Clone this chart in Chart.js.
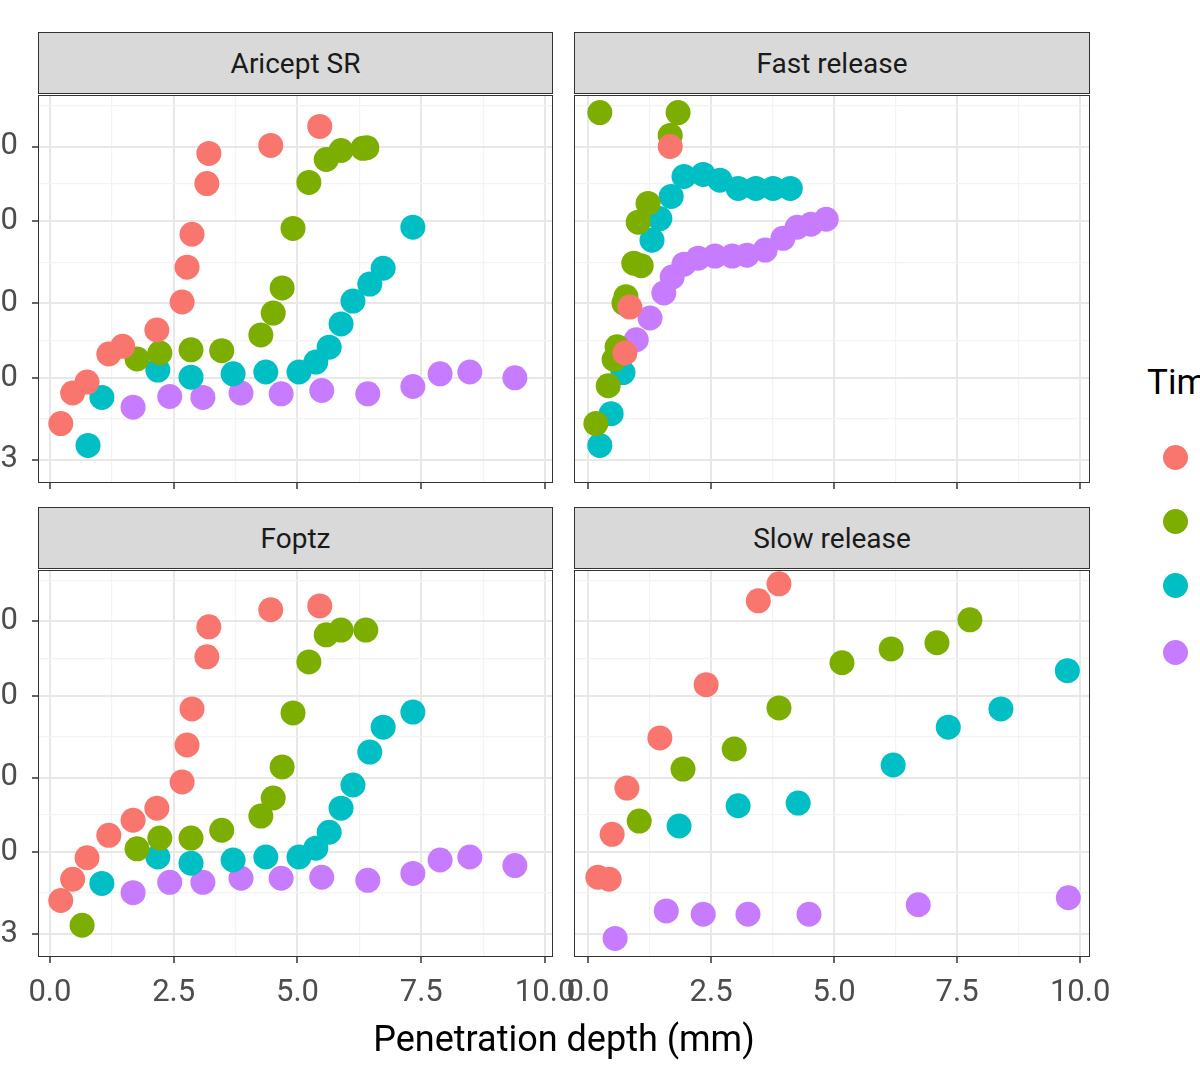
<!DOCTYPE html>
<html><head><meta charset="utf-8">
<script src="https://cdn.jsdelivr.net/npm/chart.js@4.4.1/dist/chart.umd.min.js"></script>
<style>
html,body{margin:0;padding:0;width:1200px;height:1080px;overflow:hidden;background:#fff;font-family:Roboto,"Liberation Sans",sans-serif;}
.box{position:absolute;}
.strip{position:absolute;background:#d9d9d9;border:1.5px solid #333;box-sizing:border-box;color:#1a1a1a;font-size:28px;display:flex;align-items:center;justify-content:center;}
.frame{position:absolute;border:1.5px solid #333;box-sizing:border-box;pointer-events:none;}
.dot{position:absolute;width:25px;height:25px;border-radius:50%;}
</style></head><body>
<script>
const panelTitles = ["Aricept SR", "Fast release", "Foptz", "Slow release"];
const seriesNames = ["1", "2", "3", "4"];
const seriesColors = ["#F8766D", "#7CAE00", "#00BFC4", "#C77CFF"];
const xTicks = [0, 2.5, 5, 7.5, 10];
const yTicks = [3, 10, 30, 100, 300];

const aricept1 = [[0.22,5.1],[0.46,8.0],[0.75,9.4],[1.19,14.2],[1.47,15.9],[2.16,20.2],[2.67,30.5],[2.77,50.9],[2.87,82.6],[3.17,174],[3.21,271],[4.46,305],[5.45,403]];
const aricept2 = [[1.76,13.2],[2.22,14.4],[2.85,15.1],[3.47,14.9],[4.26,18.8],[4.51,25.9],[4.69,37.5],[4.91,90],[5.23,177],[5.58,248],[5.88,283],[6.32,292],[6.40,295]];
const aricept3 = [[0.77,3.7],[1.05,7.5],[2.18,11.2],[2.85,10.1],[3.70,10.6],[4.36,10.9],[5.03,10.9],[5.37,12.6],[5.64,15.7],[5.88,22.1],[6.12,30.9],[6.46,39.7],[6.73,50.1],[7.33,91.6]];
const aricept4 = [[1.68,6.5],[2.42,7.6],[3.09,7.5],[3.86,8.0],[4.67,7.9],[5.49,8.3],[6.42,7.9],[7.33,8.8],[7.88,10.6],[8.48,10.9],[9.39,10]];

const fast1 = [[1.67,300],[0.85,28.3],[0.75,14.4]];
const fast2 = [[0.24,494],[1.83,494],[1.67,353],[1.22,130],[1.02,98.6],[0.93,54],[1.08,52],[0.77,33],[0.73,30],[0.59,15.8],[0.53,13.1],[0.41,8.9],[0.16,5.1]];
const fast3 = [[0.24,3.7],[0.47,5.9],[0.71,10.8],[1.30,75.7],[1.46,104],[1.69,144],[1.95,193],[2.34,199],[2.68,183],[3.05,162],[3.41,162],[3.76,162],[4.11,162]];
const fast4 = [[0.98,17.5],[1.26,24.1],[1.54,34.8],[1.71,44],[1.95,53.2],[2.24,58.1],[2.58,59.9],[2.93,59.9],[3.23,60.7],[3.60,65.4],[3.96,77.8],[4.25,91.5],[4.53,95.7],[4.84,103]];

const foptz1 = [[0.22,4.9],[0.46,6.7],[0.75,9.2],[1.19,12.8],[1.68,16.0],[2.16,19.1],[2.67,28.1],[2.77,48.5],[2.87,82.6],[3.17,178],[3.21,277],[4.46,356],[5.45,377]];
const foptz2 = [[0.65,3.4],[1.76,10.5],[2.22,12.3],[2.85,12.3],[3.47,13.8],[4.26,17.0],[4.51,22.2],[4.69,35.1],[4.91,77.8],[5.23,165],[5.58,246],[5.88,264],[6.38,264]];
const foptz3 = [[1.05,6.3],[2.18,9.3],[2.85,8.5],[3.70,8.9],[4.36,9.3],[5.03,9.3],[5.37,10.6],[5.64,13.4],[5.88,19.1],[6.12,26.9],[6.46,43.7],[6.73,63.1],[7.33,78.8]];
const foptz4 = [[1.68,5.5],[2.42,6.4],[3.09,6.4],[3.86,6.8],[4.67,6.8],[5.49,6.9],[6.42,6.6],[7.33,7.3],[7.88,8.9],[8.48,9.3],[9.39,8.2]];

const slow1 = [[0.20,6.9],[0.43,6.7],[0.49,13.0],[0.79,25.7],[1.46,53.8],[2.40,118],[3.46,406],[3.88,522]];
const slow2 = [[1.04,15.8],[1.93,34],[2.97,45.7],[3.88,83.8],[5.16,163],[6.16,200],[7.09,219],[7.76,307]];
const slow3 = [[1.85,14.7],[3.05,19.8],[4.27,20.6],[6.20,36.1],[7.32,63.1],[8.39,82.6],[9.74,145]];
const slow4 = [[0.55,2.8],[1.59,4.2],[2.34,4.0],[3.25,4.0],[4.49,4.0],[6.71,4.6],[9.76,5.1]];

const panelData = [[aricept1,aricept2,aricept3,aricept4],[fast1,fast2,fast3,fast4],[foptz1,foptz2,foptz3,foptz4],[slow1,slow2,slow3,slow4]];

const panels = [
  {x0:38, x1:553, y0:95, y1:483, left:true, bottom:false, xmin:-0.24, xmax:10.16},
  {x0:574,x1:1090,y0:95, y1:483, left:false,bottom:false, xmin:-0.285,xmax:10.2},
  {x0:38, x1:553, y0:570,y1:957, left:true, bottom:true, xmin:-0.24, xmax:10.16},
  {x0:574,x1:1090,y0:570,y1:957, left:false,bottom:true, xmin:-0.285,xmax:10.2}
];
const YMIN = 2.13, YMAX = 640;
const YW = 60, XH_TOP = 8, XH_BOT = 62, PADL = 30, PADR = 30;
const FONT = {family:'Roboto, "Liberation Sans", sans-serif', size:31};

function isMajorX(v){ return xTicks.some(t=>Math.abs(t-v)<1e-6); }
function isMajorY(v){ return yTicks.some(t=>Math.abs(t-v)/t<1e-6); }
function zeroPad(s){ s.paddingLeft=0; s.paddingRight=0; s.paddingTop=0; s.paddingBottom=0; }

panels.forEach((p,i)=>{
  const padL = p.left ? 0 : PADL;
  const L = p.left ? p.x0-YW : p.x0-PADL;
  const W = p.x1 + PADR - L;
  const H = (p.y1-p.y0) + (p.bottom?XH_BOT:XH_TOP);
  const div = document.createElement('div');
  div.className='box';
  div.style.cssText=`left:${L}px;top:${p.y0}px;width:${W}px;height:${H}px;`;
  const c = document.createElement('canvas');
  div.appendChild(c); document.body.appendChild(div);

  const strip = document.createElement('div');
  strip.className='strip';
  strip.style.cssText=`left:${p.x0}px;top:${p.y0-63}px;width:${p.x1-p.x0}px;height:62px;`;
  strip.textContent = panelTitles[i];
  document.body.appendChild(strip);
  const fr = document.createElement('div');
  fr.className='frame';
  fr.style.cssText=`left:${p.x0}px;top:${p.y0}px;width:${p.x1-p.x0}px;height:${p.y1-p.y0}px;`;
  document.body.appendChild(fr);

  new Chart(c,{
    type:'scatter',
    data:{datasets: panelData[i].map((d,k)=>({
      label:seriesNames[k], data:d.map(q=>({x:q[0],y:q[1]})),
      backgroundColor:seriesColors[k], borderWidth:0, pointRadius:12.5, pointHoverRadius:12.5
    }))},
    options:{
      responsive:true, maintainAspectRatio:false, animation:false,
      layout:{padding:{left:padL, right:PADR, top:0, bottom:0}, autoPadding:false},
      plugins:{legend:{display:false}, tooltip:{enabled:false}},
      scales:{
        x:{type:'linear', min:p.xmin, max:p.xmax, bounds:'data',
          afterBuildTicks:s=>{ const t=[]; for(let v=0; v<=10.001; v+=1.25) t.push({value:v}); s.ticks=t; },
          afterFit:s=>{ s.height = p.bottom?XH_BOT:XH_TOP; zeroPad(s); },
          border:{display:false},
          grid:{color:ctx=>isMajorX(ctx.tick.value)?'#e8e8e8':'#f3f3f3', lineWidth:ctx=>isMajorX(ctx.tick.value)?2:1.2,
                tickLength:6, tickColor:ctx=>isMajorX(ctx.tick.value)?'#333':'rgba(0,0,0,0)', tickWidth:1.5},
          ticks:{display:p.bottom, autoSkip:false, maxRotation:0, padding:12, color:'#4d4d4d', font:FONT,
                 callback:v=>isMajorX(v)?v.toFixed(1):''}
        },
        y:{type:'logarithmic', min:YMIN, max:YMAX, bounds:'data',
          afterBuildTicks:s=>{ s.ticks=[3,5.477,10,17.32,30,54.77,100,173.2,300,547.7].map(v=>({value:v})); },
          afterFit:s=>{ s.width = p.left?YW:0; zeroPad(s); },
          border:{display:false},
          grid:{color:ctx=>isMajorY(ctx.tick.value)?'#e8e8e8':'#f3f3f3', lineWidth:ctx=>isMajorY(ctx.tick.value)?2:1.2,
                drawTicks:p.left, tickLength:6, tickColor:ctx=>isMajorY(ctx.tick.value)?'#333':'rgba(0,0,0,0)', tickWidth:1.5},
          ticks:{display:p.left, autoSkip:false, padding:14, color:'#4d4d4d', font:FONT,
                 callback:v=>isMajorY(v)?String(v):''}
        }
      }
    }
  });
});

const t = document.createElement('div');
t.style.cssText='position:absolute;left:38px;width:1052px;top:1018px;text-align:center;font-size:36px;color:#000;';
t.textContent='Penetration depth (mm)';
document.body.appendChild(t);
const lg = document.createElement('div');
lg.style.cssText='position:absolute;left:1147px;top:362px;font-size:35px;color:#000;white-space:nowrap;';
lg.textContent='Time';
document.body.appendChild(lg);
seriesColors.forEach((col,k)=>{
  const d=document.createElement('div'); d.className='dot';
  d.style.cssText+=`left:1163px;top:${[445,509,573,640][k]}px;background:${col};`;
  document.body.appendChild(d);
  const l=document.createElement('div');
  l.style.cssText=`position:absolute;left:1205px;top:${[440,504,568,635][k]}px;font-size:28px;`;
  l.textContent=seriesNames[k];
  document.body.appendChild(l);
});
</script>
</body></html>
